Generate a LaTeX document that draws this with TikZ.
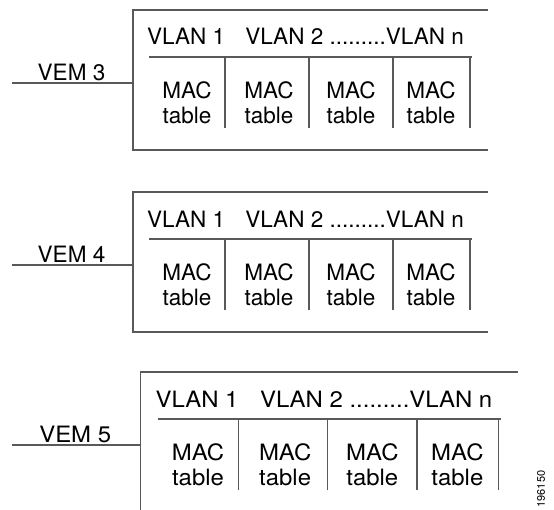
\documentclass[tikz,border=0pt]{standalone}
\usepackage{fontspec}
\setmainfont{TeX Gyre Heros}

\begin{document}
\begin{tikzpicture}[x=1bp,y=-1bp,
  frame/.style={draw=black!65,line width=1.2bp},
  cell/.style={align=center,anchor=north},
  every node/.style={inner sep=0pt,font=\fontsize{22.6}{26}\selectfont}]
\clip (0,0) rectangle (554,510);

\foreach \n/\x/\y/\s in {3/133/10/1, 4/133/192/1, 5/140.6/372/1.063}{
\begin{scope}[shift={(\x,\y)},xscale=\s,transform shape]
% box, open on the right
\draw[frame] (355,0) -- (0,0) -- (0,140) -- (355,140);

\coordinate (in\n) at (-121,73);
\coordinate (box\n) at (0,73);
\draw[frame] (in\n) -- (box\n);
\node (vem\n) at (-61.5,62.5) {VEM \n};

\node[anchor=base west] (vlan\n) at (14,35) {VLAN 1\hspace{0.9em}VLAN 2 .........VLAN n};
\draw[frame] (16,47) -- (339,47);
\foreach \d in {92,176,260,337}
  \draw[frame] (\d,47) -- (\d,118);

\foreach \c/\m in {a/54,b/136,c/218,d/298}
  \node[cell] (mac\n\c) at (\m,71) {MAC\\table};
\end{scope}}

\node[rotate=90,font=\fontsize{11}{13}\selectfont] (figid) at (541,489) {196150};
\end{tikzpicture}
\end{document}
